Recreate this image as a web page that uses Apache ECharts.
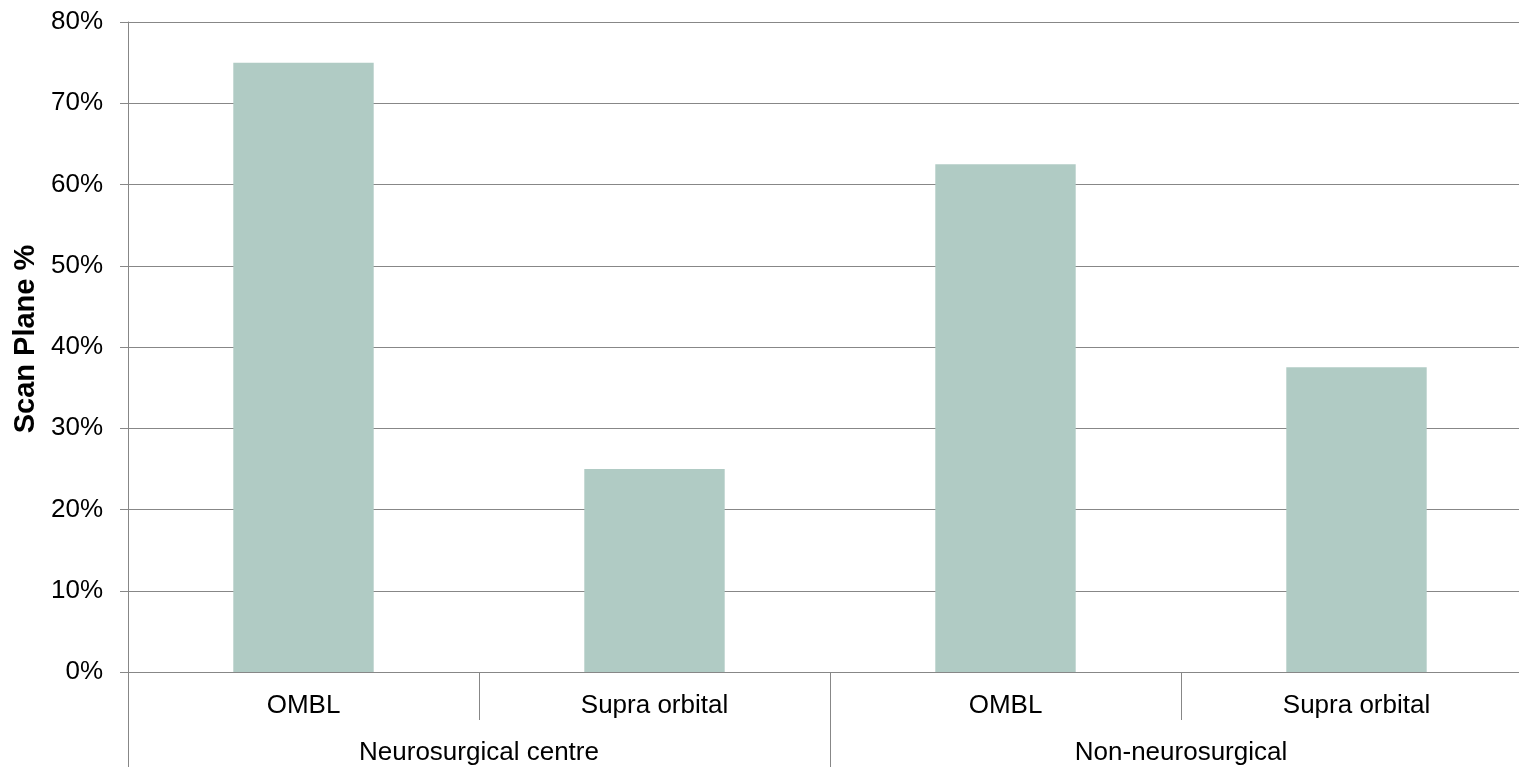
<!DOCTYPE html>
<html>
<head>
<meta charset="utf-8">
<script src="https://cdn.jsdelivr.net/npm/echarts@6/dist/echarts.min.js"></script>
<style>
  html, body { margin: 0; padding: 0; background: #ffffff; overflow: hidden; }
  #chart { width: 1519px; height: 767px; }
</style>
</head>
<body>
<div id="chart"></div>
<script>
// Scan plane share by centre type
const planes = ['OMBL', 'Supra orbital', 'OMBL', 'Supra orbital'];
const centreGroups = ['Neurosurgical centre', 'Non-neurosurgical'];
const scanPlanePct = [75, 25, 62.5, 37.5];
const yTicks = { min: 0, max: 80, step: 10 };

const GRID = '#878787';
const BAR = '#b0cbc4';
const FONT = 'Liberation Sans, Arial, sans-serif';
const LW = 1;

const chart = echarts.init(document.getElementById('chart'));
chart.setOption({
  animation: false,
  backgroundColor: '#ffffff',
  // plot area runs past the right edge of the canvas
  grid: { left: 128, width: 1404, top: 22, height: 650, containLabel: false, outerBoundsMode: 'none' },
  xAxis: [
    {
      type: 'category',
      data: planes,
      position: 'bottom',
      axisLine: { show: true, lineStyle: { color: GRID, width: LW } },
      axisTick: { show: true, alignWithLabel: false, length: 48, lineStyle: { color: GRID, width: LW } },
      axisLabel: { color: '#000', fontFamily: FONT, fontSize: 26, margin: 21 },
      splitLine: { show: false }
    },
    {
      type: 'category',
      data: centreGroups,
      position: 'bottom',
      axisLine: { show: false },
      axisTick: { show: true, alignWithLabel: false, length: 100, lineStyle: { color: GRID, width: LW } },
      axisLabel: { color: '#000', fontFamily: FONT, fontSize: 26, margin: 68 },
      splitLine: { show: false }
    }
  ],
  yAxis: {
    type: 'value',
    min: yTicks.min,
    max: yTicks.max,
    interval: yTicks.step,
    name: 'Scan Plane %',
    nameLocation: 'middle',
    nameGap: 83,
    nameTextStyle: { color: '#000', fontFamily: FONT, fontSize: 29, fontWeight: 'bold', padding: [0, 0, 0, 16] },
    axisLine: { show: true, lineStyle: { color: GRID, width: LW } },
    axisTick: { show: true, length: 8, lineStyle: { color: GRID, width: LW } },
    axisLabel: { color: '#000', fontFamily: FONT, fontSize: 26, margin: 25, formatter: '{value}%' },
    splitLine: { show: true, lineStyle: { color: GRID, width: LW } }
  },
  series: [
    {
      type: 'bar',
      xAxisIndex: 0,
      data: scanPlanePct,
      barWidth: '40%',
      itemStyle: { color: BAR },
      label: { show: false }
    }
  ]
});
</script>
</body>
</html>
